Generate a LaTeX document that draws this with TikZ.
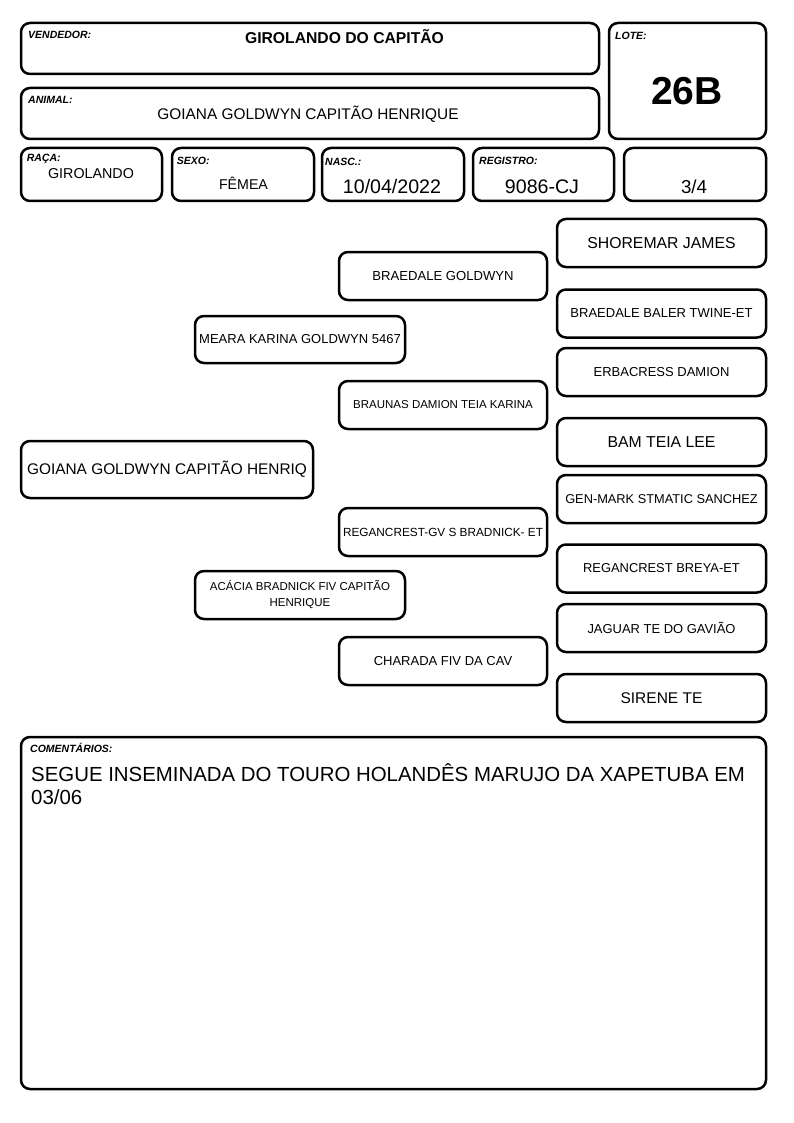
\documentclass[tikz,border=0pt]{standalone}
\usepackage{fontspec}
\setmainfont{Liberation Sans}
\begin{document}
\begin{tikzpicture}[x=1pt,y=-1pt,
  box/.style={draw, line width=2.5pt, rounded corners=9pt, inner sep=0pt, align=center},
  ped/.style={box, minimum width=209pt, minimum height=48pt},
  lab/.style={font=\fontsize{10.5}{12}\selectfont\bfseries\itshape, anchor=base west, inner sep=0pt},
  val/.style={anchor=base, inner sep=0pt}]
\useasboundingbox (0,0) rectangle (794,1123);
% header boxes
\node[box, minimum width=578pt, minimum height=51pt] (vend) at (310,48.5) {};
\node[box, minimum width=578pt, minimum height=51pt] (anim) at (310,113.5) {};
\node[box, minimum width=157pt, minimum height=116pt] (lote) at (687.5,81) {};
\node[box, minimum width=141pt, minimum height=53pt] (raca) at (91.5,174.5) {};
\node[box, minimum width=142pt, minimum height=53pt] (sexo) at (243,174.5) {};
\node[box, minimum width=142pt, minimum height=53pt] (nasc) at (393,174.5) {};
\node[box, minimum width=141pt, minimum height=53pt] (reg) at (543.5,174.5) {};
\node[box, minimum width=142pt, minimum height=53pt] (frac) at (695,174.5) {};
% labels
\node[lab] (lvend) at (28,39) {VENDEDOR:};
\node[lab] (lanim) at (28,103.3) {ANIMAL:};
\node[lab] (llote) at (615,39.3) {LOTE:};
\node[lab] (lraca) at (26.7,161.7) {RAÇA:};
\node[lab] (lsexo) at (176.7,165) {SEXO:};
\node[lab] (lnasc) at (325,165.5) {NASC.:};
\node[lab] (lreg) at (479,165) {REGISTRO:};
% values
\node[val, font=\fontsize{15.7}{18}\selectfont\bfseries] (tvend) at (344.5,43.5) {GIROLANDO DO CAPITÃO};
\node[val, font=\fontsize{15.4}{18}\selectfont] (tanim) at (308,119.5) {GOIANA GOLDWYN CAPITÃO HENRIQUE};
\node[val, font=\fontsize{39}{44}\selectfont\bfseries] (tlote) at (687,105) {26B};
\node[val, font=\fontsize{14.3}{17}\selectfont] (traca) at (91,178.3) {GIROLANDO};
\node[val, font=\fontsize{14.2}{17}\selectfont] (tsexo) at (243.5,190) {FÊMEA};
\node[val, font=\fontsize{19.6}{23}\selectfont] (tnasc) at (392,193.3) {10/04/2022};
\node[val, font=\fontsize{19.6}{23}\selectfont] (treg) at (542,193.3) {9086-CJ};
\node[val, font=\fontsize{18.7}{22}\selectfont] (tfrac) at (694,193.3) {3/4};
% pedigree
\node[box, minimum width=292pt, minimum height=57pt, font=\fontsize{15.4}{18}\selectfont] (main) at (167,469.5) {GOIANA GOLDWYN CAPITÃO HENRIQ};
\node[box, minimum width=210pt, minimum height=47pt, font=\fontsize{13}{15}\selectfont] (meara) at (300,339.5) {MEARA KARINA GOLDWYN 5467};
\node[box, minimum width=210pt, minimum height=48pt, font=\fontsize{11.5}{16}\selectfont] (acacia) at (300,595) {ACÁCIA BRADNICK FIV CAPITÃO\\HENRIQUE};
\node[box, minimum width=208pt, minimum height=48pt, font=\fontsize{13.1}{15}\selectfont] (braedale) at (443,276) {BRAEDALE GOLDWYN};
\node[box, minimum width=208pt, minimum height=48pt, font=\fontsize{11.5}{14}\selectfont] (braunas) at (443,405) {BRAUNAS DAMION TEIA KARINA};
\node[box, minimum width=208pt, minimum height=48pt, font=\fontsize{11.8}{14}\selectfont] (reganc) at (443,532) {REGANCREST-GV S BRADNICK- ET};
\node[box, minimum width=208pt, minimum height=48pt, font=\fontsize{13}{15}\selectfont] (charada) at (443,661) {CHARADA FIV DA CAV};
\node[ped, font=\fontsize{15.8}{18}\selectfont] (shoremar) at (661.5,243) {SHOREMAR JAMES};
\node[ped, font=\fontsize{13}{15}\selectfont] (baler) at (661.5,313.5) {BRAEDALE BALER TWINE-ET};
\node[ped, font=\fontsize{13}{15}\selectfont] (erba) at (661.5,372) {ERBACRESS DAMION};
\node[ped, font=\fontsize{15.8}{18}\selectfont] (bam) at (661.5,442) {BAM TEIA LEE};
\node[ped, font=\fontsize{12.8}{15}\selectfont] (genmark) at (661.5,499) {GEN-MARK STMATIC SANCHEZ};
\node[ped, font=\fontsize{12.9}{15}\selectfont] (breya) at (661.5,568.5) {REGANCREST BREYA-ET};
\node[ped, font=\fontsize{12.95}{15}\selectfont] (jaguar) at (661.5,628) {JAGUAR TE DO GAVIÃO};
\node[ped, font=\fontsize{15.5}{18}\selectfont] (sirene) at (661.5,698) {SIRENE TE};
% comments
\node[box, minimum width=745pt, minimum height=352pt] (coment) at (393.5,913) {};
\node[lab] (lcoment) at (30,752) {COMENTÁRIOS:};
\node[anchor=base west, inner sep=0pt, font=\fontsize{20.4}{23}\selectfont] (tcom1) at (31,781) {SEGUE INSEMINADA DO TOURO HOLANDÊS MARUJO DA XAPETUBA EM};
\node[anchor=base west, inner sep=0pt, font=\fontsize{20.4}{23}\selectfont] (tcom2) at (31,804) {03/06};
\end{tikzpicture}
\end{document}
